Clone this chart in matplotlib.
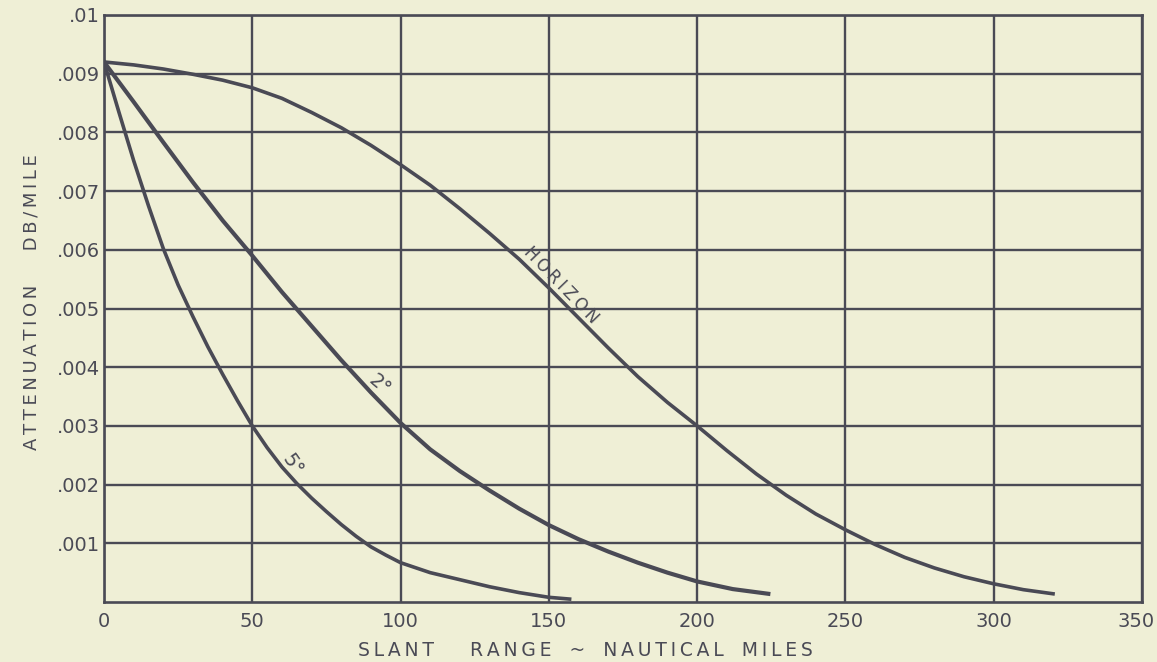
from matplotlib import pyplot as plt
from matplotlib import transforms

# slant range (nautical miles) vs attenuation (db/mile)
horizon_x = [0, 10, 20, 30, 40, 50, 60, 70, 80, 90, 100, 110, 120, 130, 140, 150, 160, 170, 180, 190, 200,
             210, 220, 230, 240, 250, 260, 270, 280, 290, 300, 310, 320]
horizon_y = [.0092, .00915, .00908, .00899, .00889, .00876, .00858, .00834, .00808, .00778, .00745, .00710,
             .00670, .00628, .00584, .00535, .00484, .00433, .00384, .00340, .00300, .00258, .00218, .00182,
             .00150, .00123, .00098, .00076, .00058, .00043, .00031, .00021, .00014]

deg2_x = [0, 10, 20, 30, 40, 50, 60, 70, 80, 90, 100, 110, 120, 130, 140, 150, 160, 170, 180, 190, 200, 212, 224]
deg2_y = [.0092, .00852, .00783, .00715, .00650, .00590, .00528, .00470, .00412, .00357, .00305, .00260, .00223,
          .00190, .00159, .00131, .00107, .00086, .00067, .00050, .00035, .00022, .00014]

deg5_x = [0, 5, 10, 15, 20, 25, 30, 35, 40, 45, 50, 55, 60, 65, 70, 75, 80, 85, 90, 95, 100, 110, 120, 130,
          140, 150, 157]
deg5_y = [.0092, .00835, .00752, .00675, .00602, .00540, .00486, .00435, .00388, .00343, .00300, .00263, .00230,
          .00202, .00177, .00154, .00132, .00112, .00094, .00080, .00067, .00050, .00038, .00026, .00016, .00008,
          .00005]

x_ticks = [0, 50, 100, 150, 200, 250, 300, 350]
y_ticks = [.001, .002, .003, .004, .005, .006, .007, .008, .009, .01]
y_tick_labels = [".001", ".002", ".003", ".004", ".005", ".006", ".007", ".008", ".009", ".01"]

INK = "#4a4a55"
PAPER = "#efefd6"


def spaced(s):
    # scanned lettering is widely tracked
    return "\u2009".join(s)


fig = plt.figure(figsize=(11.57, 6.62), dpi=100, facecolor=PAPER)
ax = fig.add_axes([104 / 1157, 1 - 602 / 662, (1142 - 104) / 1157, (602 - 15) / 662])
ax.set_facecolor(PAPER)

for x in x_ticks:
    ax.axvline(x, color=INK, lw=1.7, zorder=1)
for y in y_ticks:
    ax.axhline(y, color=INK, lw=1.7, zorder=1)

ax.plot(horizon_x, horizon_y, color=INK, lw=2.6, zorder=3, solid_joinstyle="round")
ax.plot(deg2_x, deg2_y, color=INK, lw=3.0, zorder=3, solid_joinstyle="round")
ax.plot(deg5_x, deg5_y, color=INK, lw=2.6, zorder=3, solid_joinstyle="round")

ax.set_xlim(0, 350)
ax.set_ylim(0, .01)
ax.set_xticks(x_ticks)
ax.set_xticklabels([str(x) for x in x_ticks])
ax.set_yticks(y_ticks)
ax.set_yticklabels(y_tick_labels)
ax.tick_params(axis="x", length=0, labelsize=14, labelcolor=INK, pad=7)
ax.tick_params(axis="y", length=0, labelsize=14, labelcolor=INK, pad=3)
last = ax.get_xticklabels()[-1]
last.set_transform(last.get_transform() + transforms.ScaledTranslation(-0.06, 0, fig.dpi_scale_trans))
for s in ax.spines.values():
    s.set_color(INK)
    s.set_linewidth(1.9)

# curve labels, nudged off their lines in screen space
horizon_pos = transforms.offset_copy(ax.transData, fig=fig, x=9, y=9, units="dots")
ax.text(151, .00525, spaced("HORIZON"), rotation=-46, ha="center", va="center", fontsize=12,
        color=INK, rotation_mode="anchor", zorder=4, transform=horizon_pos)
ax.text(93, .0037, "2°", rotation=-40, ha="center", va="center", fontsize=14, color=INK,
        rotation_mode="anchor", zorder=4)
ax.text(63.5, .00233, "5°", rotation=-55, ha="center", va="center", fontsize=14, color=INK,
        rotation_mode="anchor", zorder=4)

fig.text(585 / 1157, 1 - 651 / 662, spaced("SLANT") + "      " + spaced("RANGE") + "   ~   " + spaced("NAUTICAL")
         + "   " + spaced("MILES"), ha="center", va="center", fontsize=13.5, color=INK)
fig.text(32 / 1157, 1 - 302 / 662, spaced("ATTENUATION") + "      " + spaced("DB/MILE"), rotation=90,
         ha="center", va="center", fontsize=13, color=INK)

fig.savefig("out.png", dpi=100, facecolor=PAPER)
